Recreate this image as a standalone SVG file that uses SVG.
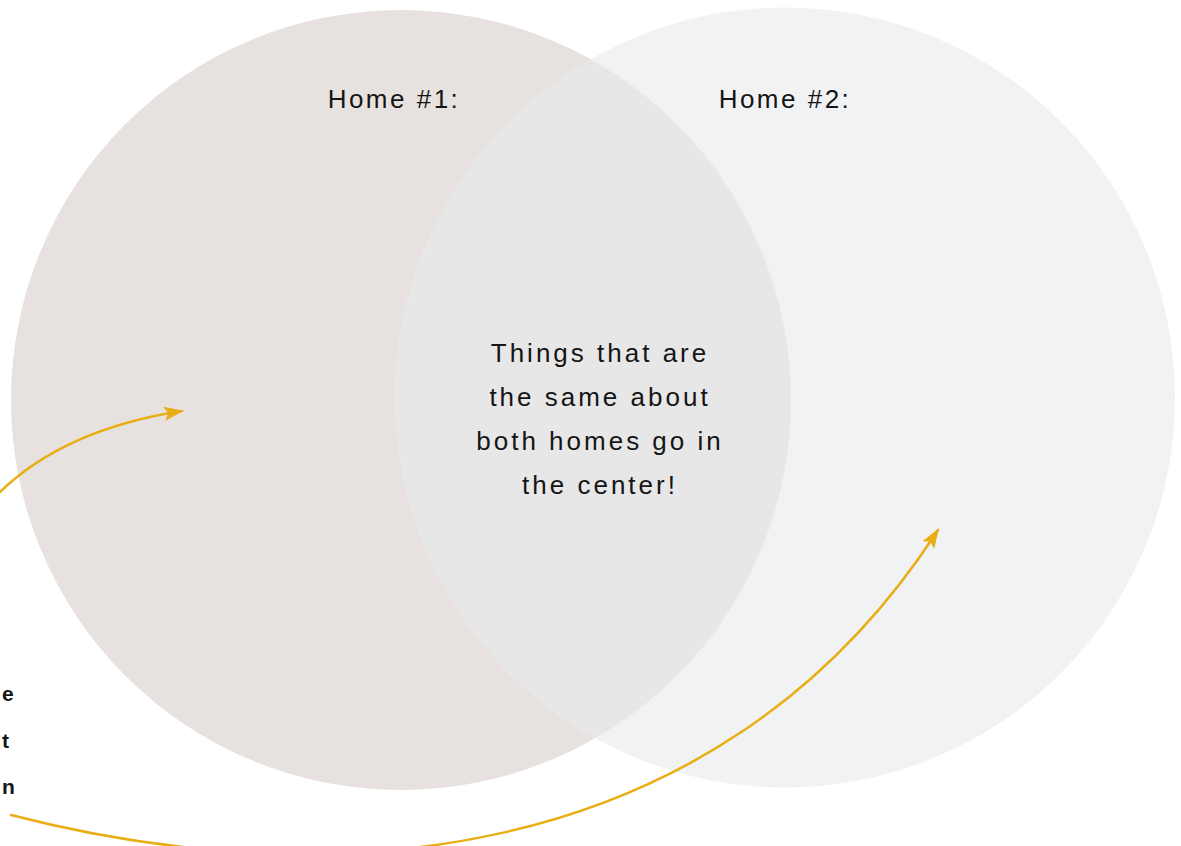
<svg xmlns="http://www.w3.org/2000/svg" width="1181" height="846" viewBox="0 0 1181 846">
  <style>
    .label { font-family: "Liberation Sans", Arial, sans-serif; fill: #151515; font-size: 26px; }
    .title { letter-spacing: 2.5px; text-anchor: middle; }
    .body { letter-spacing: 3px; text-anchor: middle; }
    .frag { font-size: 21px; font-weight: bold; }
    .arrow { fill: none; stroke: #E8AE14; stroke-width: 2.5; stroke-linecap: round; }
  </style>
  <defs>
    <marker id="head" viewBox="0 0 20 14" refX="18" refY="7" markerWidth="20" markerHeight="14" markerUnits="userSpaceOnUse" orient="auto">
      <path d="M0,0 L20,7 L0,14 L4,7 Z" fill="#E8AE14"/>
    </marker>
    <clipPath id="leftClip">
      <circle cx="401" cy="400" r="390"/>
    </clipPath>
  </defs>
  <rect width="1181" height="846" fill="#ffffff"/>
  <g id="home1">
    <circle cx="401" cy="400" r="390" fill="#e7e2df"/>
  </g>
  <g id="home2">
    <circle cx="785" cy="397.5" r="390" fill="#f1f2f4"/>
  </g>
  <g id="overlap">
    <circle cx="785" cy="397.5" r="390" fill="#e7e7e7" clip-path="url(#leftClip)"/>
    <text class="label body" x="600" y="362">Things that are</text>
    <text class="label body" x="600" y="406">the same about</text>
    <text class="label body" x="600" y="450">both homes go in</text>
    <text class="label body" x="600" y="494">the center!</text>
  </g>
  <text class="label title" x="394" y="108">Home #1:</text>
  <text class="label title" x="785" y="108">Home #2:</text>
  <g id="side-note">
    <text class="label frag" x="2" y="701">e</text>
    <text class="label frag" x="2" y="748">t</text>
    <text class="label frag" x="2" y="794">n</text>
  </g>
  <g id="connectors">
    <path class="arrow" d="M-5,497 Q60,430 182,411" marker-end="url(#head)"/>
    <path class="arrow" d="M11,815 C320,895 715,875 938,530" marker-end="url(#head)"/>
  </g>
</svg>
